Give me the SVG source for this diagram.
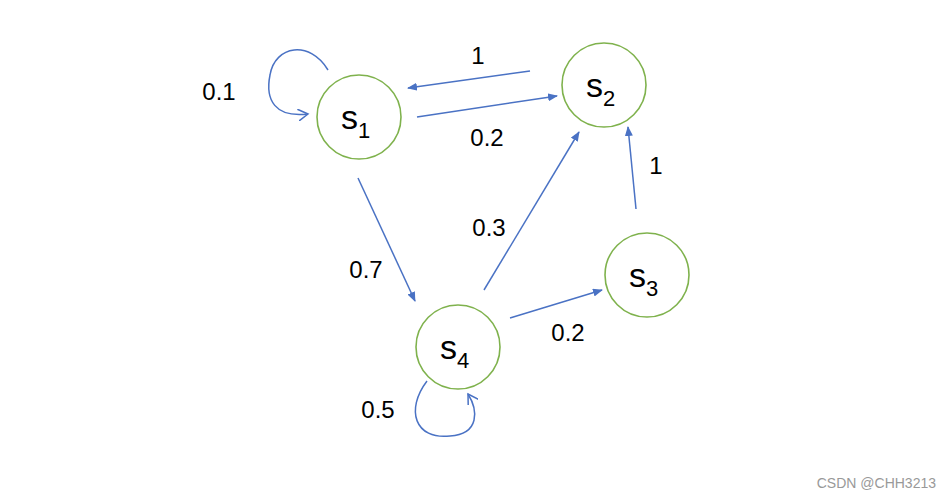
<svg xmlns="http://www.w3.org/2000/svg" width="950" height="500" viewBox="0 0 950 500">
<style>
.n{fill:#fff;stroke:#7fb24d;stroke-width:1.6}
.t{font-family:"Liberation Sans",Arial,sans-serif;font-size:34px;fill:#000}
.sub{font-size:22px}
.l{font-family:"Liberation Sans",Arial,sans-serif;font-size:24px;fill:#000}
.e{stroke:#4a72c4;stroke-width:1.5;fill:none}
</style>
<defs>
<marker id="a" markerWidth="10" markerHeight="8" refX="9" refY="4" orient="auto" markerUnits="userSpaceOnUse"><path d="M0,0L10,4L0,8Z" fill="#4a72c4"/></marker>
<marker id="o" markerWidth="12" markerHeight="12" refX="10" refY="6" orient="auto" markerUnits="userSpaceOnUse"><path d="M0,0L10,6L0,12" fill="none" stroke="#4a72c4" stroke-width="1.5"/></marker>
</defs>
<rect width="950" height="500" fill="#fff"/>
<g id="edges">
<line class="e" x1="530" y1="71" x2="408" y2="88" marker-end="url(#a)"/>
<line class="e" x1="417" y1="117" x2="557" y2="96" marker-end="url(#a)"/>
<line class="e" x1="358" y1="178" x2="415" y2="301" marker-end="url(#a)"/>
<line class="e" x1="484" y1="290" x2="579" y2="132" marker-end="url(#a)"/>
<line class="e" x1="636" y1="209" x2="628" y2="127" marker-end="url(#a)"/>
<line class="e" x1="510" y1="318" x2="602" y2="290" marker-end="url(#a)"/>
<path class="e" d="M328,70 C310,40 275,45 270,75 C265,100 275,118 308,114" marker-end="url(#o)"/>
<path class="e" d="M427,381 C405,410 415,440 450,436 C480,434 478,410 468,394" marker-end="url(#o)"/>
<text class="l" x="478" y="64" text-anchor="middle">1</text>
<text class="l" x="487" y="146" text-anchor="middle">0.2</text>
<text class="l" x="219" y="100" text-anchor="middle">0.1</text>
<text class="l" x="366" y="278" text-anchor="middle">0.7</text>
<text class="l" x="489" y="236" text-anchor="middle">0.3</text>
<text class="l" x="656" y="174" text-anchor="middle">1</text>
<text class="l" x="568" y="341" text-anchor="middle">0.2</text>
<text class="l" x="378" y="418" text-anchor="middle">0.5</text>
</g>
<g id="s1"><circle class="n" cx="359" cy="117" r="42"/><text class="t" x="341" y="129">s<tspan class="sub" dy="9">1</tspan></text></g>
<g id="s2"><circle class="n" cx="604" cy="85" r="42"/><text class="t" x="586" y="97">s<tspan class="sub" dy="9">2</tspan></text></g>
<g id="s3"><circle class="n" cx="647" cy="275" r="42"/><text class="t" x="629" y="287">s<tspan class="sub" dy="9">3</tspan></text></g>
<g id="s4"><circle class="n" cx="458" cy="347" r="42"/><text class="t" x="440" y="359">s<tspan class="sub" dy="9">4</tspan></text></g>
<text x="936" y="488" text-anchor="end" font-family="Liberation Sans,Arial,sans-serif" font-size="14" fill="#999">CSDN @CHH3213</text>
</svg>
